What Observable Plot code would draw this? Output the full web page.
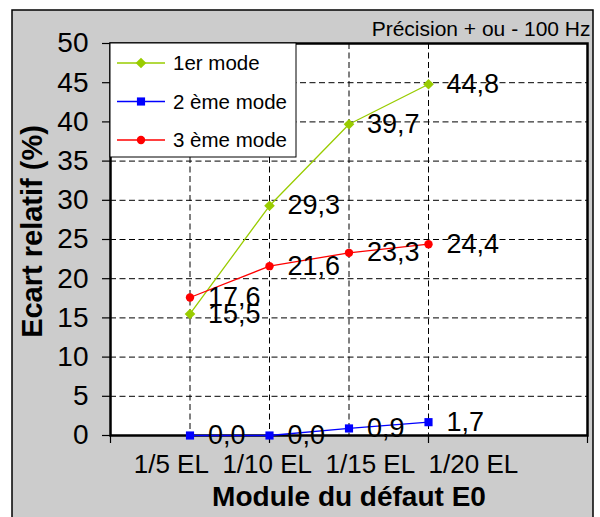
<!DOCTYPE html>
<html><head><meta charset="utf-8">
<script src="https://cdn.jsdelivr.net/npm/d3@7"></script>
<script src="https://cdn.jsdelivr.net/npm/@observablehq/plot@0.6"></script>
<style>body{margin:0;background:#fff;} #chart svg{display:block;}</style>
</head><body><div id="chart"></div>
<script>
// ---- data ----
const categories = ["1/5 EL", "1/10 EL", "1/15 EL", "1/20 EL"];
const seriesNames = ["1er mode", "2 ème mode", "3 ème mode"];
const mode1 = [15.5, 29.3, 39.7, 44.8];
const mode2 = [0.0, 0.0, 0.9, 1.7];
const mode3 = [17.6, 21.6, 23.3, 24.4];
const seriesColors = ["#99cc00", "#0000ff", "#ff0000"];
const seriesSymbols = ["diamond2", "square", "circle"];
const seriesMarkerR = [4.8, 4.6, 4.2];
const yTicks = [0, 5, 10, 15, 20, 25, 30, 35, 40, 45, 50];
const xTitle = "Module du défaut E0";
const yTitle = "Ecart relatif (%)";
const note = "Précision + ou - 100 Hz";

const allSeries = [mode1, mode2, mode3];
const data = [];
allSeries.forEach((vals, s) => vals.forEach((v, i) =>
  data.push({series: seriesNames[s], s, idx: i + 1, cat: categories[i], value: v})));
const fmt = v => v.toFixed(1).replace(".", ",");

const font = "'Liberation Sans', Arial, Helvetica, sans-serif";
const W = 600, H = 517;
const dash = "6,3.5";

const plot = Plot.plot({
  width: W, height: H,
  marginLeft: 110, marginRight: 13, marginTop: 43, marginBottom: 82,
  style: {fontFamily: font, background: "transparent", color: "#000", overflow: "visible"},
  x: {type: "linear", domain: [0, 6]},
  y: {domain: [0, 50]},
  r: {type: "identity"},
  color: {domain: seriesNames, range: seriesColors},
  symbol: {domain: seriesNames, range: seriesSymbols},
  marks: [
    Plot.frame({fill: "white"}),
    Plot.gridY(yTicks.filter(t => t > 0 && t < 50), {stroke: "#000", strokeOpacity: 1, strokeDasharray: dash, strokeWidth: 1}),
    Plot.gridX(d3.range(1, categories.length + 1), {stroke: "#000", strokeOpacity: 1, strokeDasharray: dash, strokeWidth: 1}),
    Plot.axisY(yTicks, {tickSize: 8, tickPadding: 14, fontSize: 28, label: null, strokeWidth: 1.2}),
    Plot.axisX([0, 2, 4, 6], {tickSize: 8, tickFormat: () => "", label: null, strokeWidth: 1.2}),
    Plot.frame({stroke: "#000", strokeWidth: 2.5}),
    Plot.line(data, {x: "idx", y: "value", stroke: "series", z: "series", strokeWidth: 1.3}),
    Plot.dot(data, {x: "idx", y: "value", fill: "series", symbol: "series", r: d => seriesMarkerR[d.s]}),
    Plot.text(data, {x: "idx", y: "value", text: d => fmt(d.value), textAnchor: "start", dx: 18, fontSize: 27, fill: "#000"}),
    Plot.text([categories.join("  ")], {frameAnchor: "bottom", lineAnchor: "bottom", dy: 37, dx: -23, fontSize: 26, fill: "#000"}),
    Plot.text([xTitle], {frameAnchor: "bottom", lineAnchor: "bottom", dy: 70, fontSize: 28, fontWeight: "bold", fill: "#000"}),
    Plot.text([yTitle], {frameAnchor: "left", textAnchor: "middle", rotate: -90, dx: -78, dy: -8, fontSize: 29, fontWeight: "bold", fill: "#000"}),
    Plot.text([note], {frameAnchor: "top-right", textAnchor: "end", lineAnchor: "bottom", dx: 3, dy: -8, fontSize: 21, fill: "#000"})
  ]
});

const svg = d3.select(plot);
// outer grey panel
svg.insert("rect", ":first-child")
  .attr("x", 12).attr("y", 10).attr("width", 581).attr("height", H)
  .attr("fill", "#cccccc").attr("stroke", "#000").attr("stroke-width", 1.5);

// legend box
const lg = svg.append("g").attr("font-family", font).attr("text-anchor", "start");
lg.append("rect").attr("x", 110).attr("y", 43).attr("width", 186).attr("height", 114)
  .attr("fill", "#fff").attr("stroke", "#000").attr("stroke-width", 1);
const symMap = {diamond2: d3.symbolDiamond2, square: d3.symbolSquare, circle: d3.symbolCircle};
seriesNames.forEach((name, i) => {
  const y = 63 + i * 38.5;
  const g = lg.append("g");
  g.append("line").attr("x1", 117).attr("x2", 165).attr("y1", y).attr("y2", y)
    .attr("stroke", seriesColors[i]).attr("stroke-width", 1.3);
  g.append("path").attr("transform", `translate(141,${y})`)
    .attr("d", d3.symbol(symMap[seriesSymbols[i]], Math.PI * seriesMarkerR[i] * seriesMarkerR[i])())
    .attr("fill", seriesColors[i]);
  g.append("text").attr("x", 173).attr("y", y).attr("dy", "0.35em").attr("text-anchor", "start")
    .attr("font-size", 20.5).attr("fill", "#000").text(name);
});

document.getElementById("chart").appendChild(plot);
</script>
</body></html>
